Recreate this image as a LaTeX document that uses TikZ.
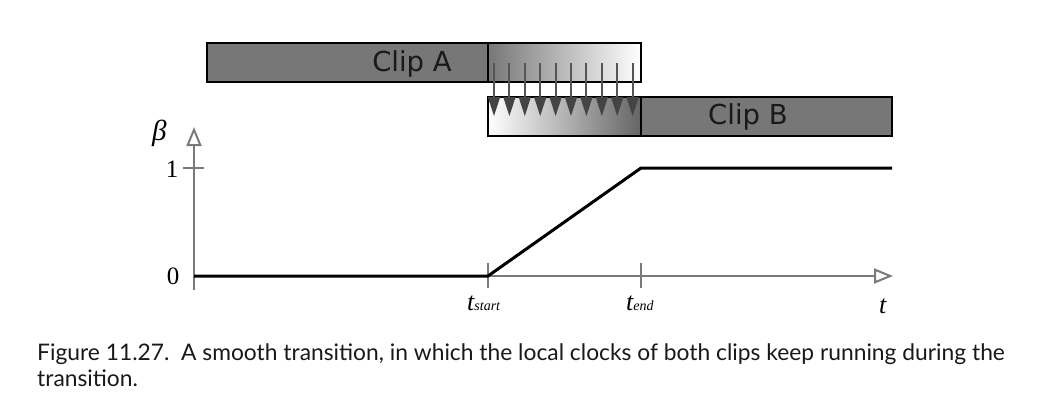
\documentclass[tikz,border=0pt]{standalone}
\usepackage{fontspec}
\setsansfont{DejaVu Sans}
\newfontfamily\capfont{Lato}
\newfontfamily\labfont{Liberation Serif}
\usetikzlibrary{arrows.meta}
\definecolor{clipgray}{HTML}{777777}
\definecolor{axisgray}{HTML}{7A7A7A}
\definecolor{headgray}{HTML}{444444}
\definecolor{shaftgray}{HTML}{555555}
\tikzset{
  clipbox/.style={draw=black, line width=1.5pt, rectangle, inner sep=0pt, outer sep=0pt, anchor=north west},
  cliplabel/.style={font=\sffamily\fontsize{27.5}{30}\selectfont, text=black!90},
  axisline/.style={draw=axisgray, line width=2pt, -{Triangle[open, length=19pt, width=15pt, line width=2pt]}},
  tickline/.style={draw=axisgray, line width=2pt},
  curve/.style={draw=black, line width=3pt},
  numlabel/.style={font=\labfont\fontsize{25}{28}\selectfont, inner sep=0pt, anchor=base},
  tlabel/.style={font=\labfont\itshape\fontsize{26}{28}\selectfont, inner sep=0pt, anchor=base west},
  captext/.style={font=\capfont\fontsize{22.8}{25.5}\selectfont, anchor=base west, inner sep=0pt, text=black!90, align=left}
}
\newcommand{\subtxt}[1]{{\fontsize{14}{16}\selectfont #1}}
\begin{document}
\begin{tikzpicture}[x=1pt,y=-1pt]
\useasboundingbox (0,0) rectangle (1048,412);
% clips
\node[clipbox, fill=clipgray, minimum width=281pt, minimum height=39pt] (clipA) at (207,43) {};
\node[clipbox, left color=clipgray, right color=white, minimum width=153pt, minimum height=39pt] (fadeA) at (488,43) {};
\node[clipbox, left color=white, right color=clipgray!85!black, minimum width=153pt, minimum height=39pt] (fadeB) at (488,97) {};
\node[clipbox, fill=clipgray, minimum width=251pt, minimum height=39pt] (clipB) at (641,97) {};
\node[cliplabel] (labA) at (412,64) {Clip A};
\node[cliplabel] (labB) at (748,117) {Clip B};
% arrows
\foreach \i in {0,...,9} {
  \coordinate (s\i) at ({494+15.4*\i},63);
  \coordinate (h\i) at ({494+15.4*\i},97);
  \draw[shaftgray, line width=2pt] (s\i) -- (h\i);
  \fill[headgray] ([xshift=-6.2pt]h\i) -- ([xshift=6.2pt]h\i) -- ([yshift=-19pt]h\i) -- cycle;
}
% axes
\coordinate (ybot) at (194,290);
\coordinate (ytop) at (194,127);
\coordinate (xleft) at (194,276);
\coordinate (xright) at (893,276);
\draw[axisline] (ybot) -- (ytop);
\draw[axisline] (xleft) -- (xright);
\draw[tickline] (183,168) -- (204,168);
\draw[tickline] (488,263) -- (488,288);
\draw[tickline] (641,263) -- (641,288);
% curve
\coordinate (p0) at (194,276);
\coordinate (p1) at (488,276);
\coordinate (p2) at (641,168);
\coordinate (p3) at (892,168);
\draw[curve] (p0) -- (p1) -- (p2) -- (p3);
% labels
\node[tlabel, font=\labfont\itshape\fontsize{29}{32}\selectfont] (beta) at (152,140) {β};
\node[numlabel] (l1) at (172,177) {1};
\node[numlabel] (l0) at (173,284) {0};
\node[tlabel] (ts) at (467,310) {t\subtxt{start}};
\node[tlabel] (te) at (626,310) {t\subtxt{end}};
\node[tlabel] (tt) at (879,313) {t};
% caption
\node[captext] (cap) at (37,386) {Figure 11.27.\ \ A smooth transition, in which the local clocks of both clips keep running during the\\transition.};
\end{tikzpicture}
\end{document}
